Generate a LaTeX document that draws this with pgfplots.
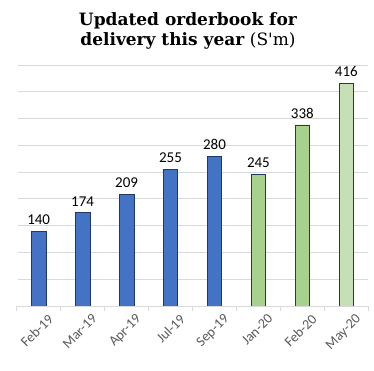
\documentclass[border=0pt]{standalone}
\usepackage{pgfplots}
\pgfplotsset{compat=1.18}
\usepackage{fontspec}
\setmainfont{Carlito}
\newfontfamily\titlefont{DejaVu Serif}
\definecolor{barblue}{HTML}{4472C4}
\definecolor{bargreen}{HTML}{A9D18E}
\definecolor{barlight}{HTML}{C5E0B4}
\definecolor{baredge}{HTML}{1F3864}
\definecolor{gridgray}{HTML}{D9D9D9}
\definecolor{ticktext}{HTML}{595959}
\begin{document}
\begin{tikzpicture}[x=1pt,y=1pt]
\useasboundingbox (0,0) rectangle (374,371);
\node[align=center, font=\titlefont\fontsize{17}{20}\selectfont] at (188,340)
  {\textbf{Updated orderbook for}\\\textbf{delivery this year} (S'm)};
\begin{axis}[
  at={(16.7pt,65pt)}, anchor=south west,
  scale only axis, width=351.6pt, height=241pt,
  xmin=-0.5, xmax=7.5, ymin=0, ymax=450,
  ybar, bar width=14.6pt, bar shift=0pt,
  /pgf/number format/assume math mode=true,
  separate axis lines,
  axis x line*=bottom, axis y line*=left,
  x axis line style={gridgray, line width=0.8pt, -},
  y axis line style={draw=white, line width=1.6pt, -},
  ytick={50,100,...,450}, yticklabels={},
  ymajorgrids, grid style={gridgray, line width=0.8pt},
  major y tick style={draw=none},
  xtick={0,...,7},
  xticklabels={Feb-19,Mar-19,Apr-19,Jul-19,Sep-19,Jan-20,Feb-20,May-20},
  major x tick style={draw=none},
  minor xtick={-0.5,0.5,...,7.5},
  minor x tick style={gridgray, line width=0.8pt},
  minor tick length=5pt,
  tick align=outside,
  xticklabel style={rotate=45, anchor=north east, font=\fontsize{14}{14}\selectfont, text=ticktext, inner sep=0pt, xshift=4pt, yshift=-8pt},
  nodes near coords,
  nodes near coords style={font=\fontsize{15}{15}\selectfont, text=black, yshift=3pt},
  every axis plot/.append style={draw=baredge, line width=0.75pt},
]
\addplot[fill=barblue] coordinates {(0,140) (1,174) (2,209) (3,255) (4,280)};
\addplot[fill=bargreen] coordinates {(5,245) (6,338)};
\addplot[fill=barlight] coordinates {(7,416)};
\end{axis}
\end{tikzpicture}
\end{document}
